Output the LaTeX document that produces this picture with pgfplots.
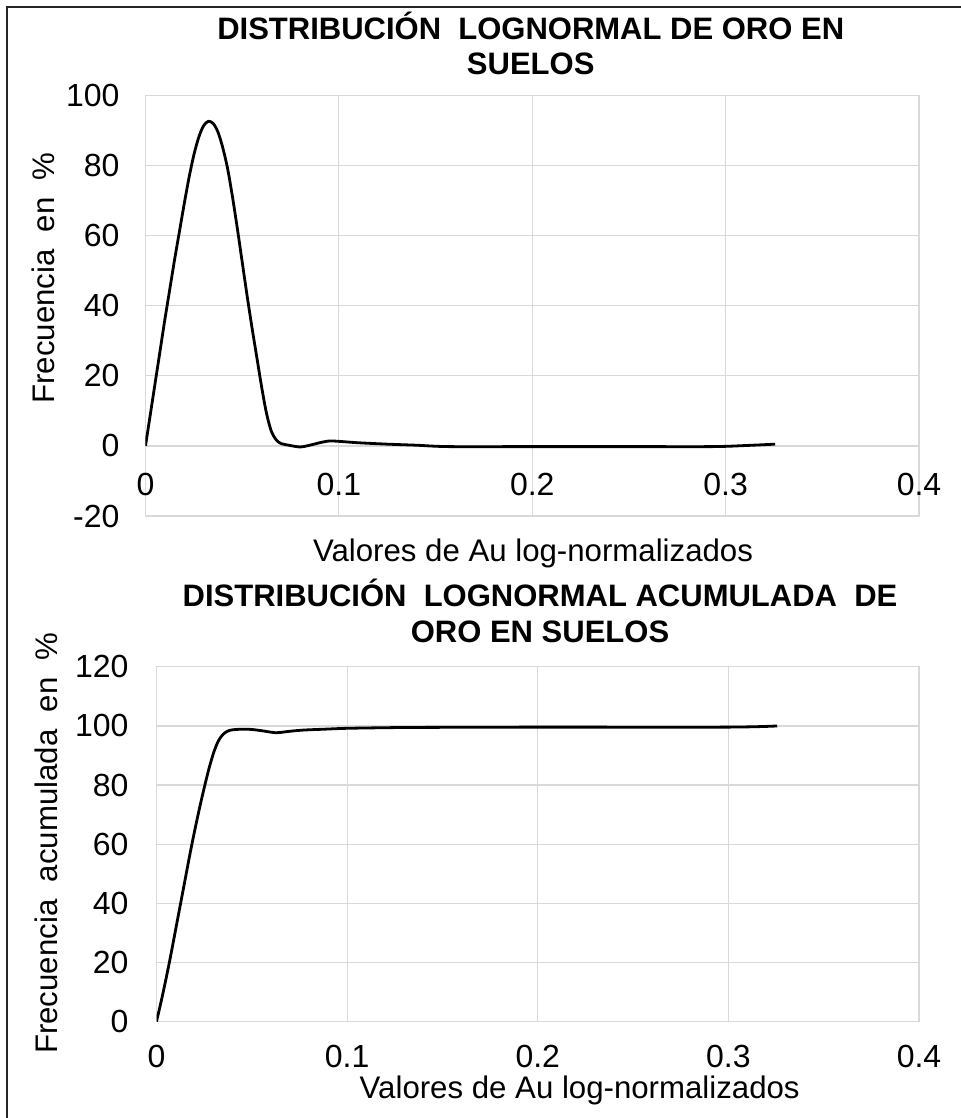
\documentclass[border=0pt]{standalone}
\usepackage{pgfplots}
\pgfplotsset{compat=1.18}
\usepackage{fontspec}
\setmainfont{Liberation Sans}

\pgfplotsset{
  excel/.style={
    scale only axis,
    xmin=0, xmax=0.4,
    xtick={0,0.1,0.2,0.3,0.4},
    xticklabels={0,0.1,0.2,0.3,0.4},
    grid=major,
    major grid style={gray!30, line width=0.6pt},
    axis line style={gray!30, line width=0.6pt},
    tick style={draw=none},
    ticklabel style={font=\fontsize{16}{19}\selectfont},
    label style={font=\fontsize{15.6}{18}\selectfont},
    title style={font=\bfseries\fontsize{15.5}{17.75}\selectfont, align=center},
    /pgf/number format/assume math mode=true,
  },
  curva/.style={black, line width=1.4pt, smooth, mark=none},
}

\begin{document}
\begin{tikzpicture}
\useasboundingbox (0,0) rectangle (480.5pt,-559pt);
\draw[black!85, line width=0.9pt] (3.6pt,-559pt) -- (3.6pt,-3.7pt) -- (480.5pt,-3.7pt);

% densidad
\begin{axis}[excel,
  at={(72.75pt,-258pt)}, anchor=south west,
  width=386.75pt, height=210.3pt,
  ymin=-20, ymax=100,
  ytick={-20,0,20,40,60,80,100},
  yticklabels={-20,0,20,40,60,80,100},
  xticklabel style={anchor=center, yshift=16pt},
  yticklabel style={xshift=-9.5pt},
  title={DISTRIBUCIÓN\ \ LOGNORMAL DE ORO EN\\SUELOS},
  title style={at={(rel axis cs:0.498,1)}, anchor=center, yshift=20pt},
  xlabel={Valores de Au log-normalizados},
  xlabel style={at={(rel axis cs:0.501,0)}, anchor=center, yshift=-18.5pt},
  ylabel={Frecuencia\ \ en\ \ \%},
  ylabel style={at={(rel axis cs:-0.1325,0.566)}, anchor=center, rotate=0},
]
\addplot[curva] coordinates {
(0,0) (0.0025,9) (0.005,18) (0.0075,27) (0.01,36) (0.0125,44.5)
(0.015,53) (0.0175,61) (0.02,69) (0.0225,76.5) (0.025,83) (0.0275,88)
(0.03,91.3) (0.0325,92.6) (0.035,92) (0.0375,89.5) (0.04,85) (0.0425,79)
(0.045,71) (0.0475,62) (0.05,52.5) (0.0525,43) (0.055,34) (0.0575,25.5)
(0.06,17) (0.0625,9.5) (0.065,4.3) (0.0675,1.8) (0.07,0.7) (0.075,0.1)
(0.08,-0.3) (0.085,0.2) (0.09,0.9) (0.095,1.4) (0.1,1.3) (0.11,0.9)
(0.125,0.5) (0.14,0.2) (0.157,-0.2) (0.2,-0.2) (0.25,-0.2) (0.293,-0.2)
(0.31,0.1) (0.3256,0.5)
};
\end{axis}

% acumulada
\begin{axis}[excel,
  at={(78.25pt,-510.8pt)}, anchor=south west,
  width=381.25pt, height=177.4pt,
  ymin=0, ymax=120,
  ytick={0,20,40,60,80,100,120},
  yticklabels={0,20,40,60,80,100,120},
  xticklabel style={anchor=center, yshift=-17.2pt},
  yticklabel style={xshift=-10.5pt},
  title={DISTRIBUCIÓN\ \ LOGNORMAL ACUMULADA\ \ DE\\ORO EN SUELOS},
  title style={at={(rel axis cs:0.503,1)}, anchor=center, yshift=22pt},
  xlabel={Valores de Au log-normalizados},
  xlabel style={at={(rel axis cs:0.555,0)}, anchor=center, yshift=-34.2pt},
  ylabel={Frecuencia\ \ acumulada\ \ en\ \ \%},
  ylabel style={at={(rel axis cs:-0.145,0.503)}, anchor=center, rotate=0},
]
\addplot[curva] coordinates {
(0,0) (0.0025,7) (0.005,14.5) (0.0075,22.5) (0.01,31) (0.0125,39.5)
(0.015,48) (0.0175,56.5) (0.02,64.5) (0.0225,72) (0.025,79) (0.0275,85.5)
(0.03,91) (0.0325,95) (0.035,97.2) (0.0375,98.3) (0.04,98.7) (0.045,98.9)
(0.05,98.8) (0.055,98.4) (0.06,97.9) (0.0628,97.7) (0.065,97.8) (0.07,98.2)
(0.077,98.6) (0.088,98.9) (0.1,99.2) (0.12,99.4) (0.138,99.5) (0.2,99.6)
(0.299,99.6) (0.3256,100)
};
\end{axis}
\end{tikzpicture}
\end{document}
